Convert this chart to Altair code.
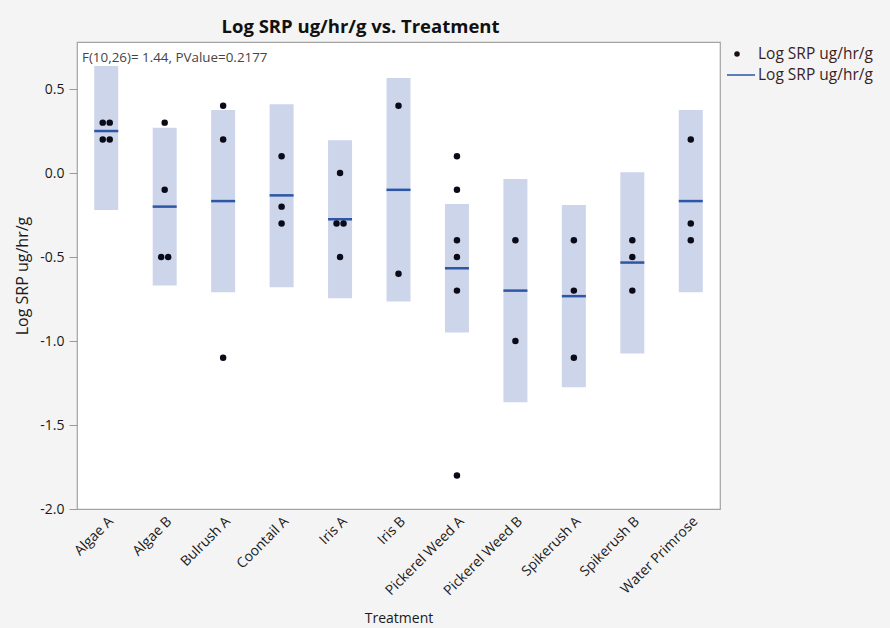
import altair as alt
import pandas as pd

treatments = ["Algae A", "Algae B", "Bulrush A", "Coontail A", "Iris A", "Iris B",
              "Pickerel Weed A", "Pickerel Weed B", "Spikerush A", "Spikerush B", "Water Primrose"]

# individual observations
pt_treatment = (["Algae A"] * 4 + ["Algae B"] * 4 + ["Bulrush A"] * 3 + ["Coontail A"] * 3 +
                ["Iris A"] * 4 + ["Iris B"] * 2 + ["Pickerel Weed A"] * 6 + ["Pickerel Weed B"] * 2 +
                ["Spikerush A"] * 3 + ["Spikerush B"] * 3 + ["Water Primrose"] * 3)
pt_value = [0.3, 0.3, 0.2, 0.2,
            0.3, -0.1, -0.5, -0.5,
            0.4, 0.2, -1.1,
            0.1, -0.2, -0.3,
            0.0, -0.3, -0.3, -0.5,
            0.4, -0.6,
            0.1, -0.1, -0.4, -0.5, -0.7, -1.8,
            -0.4, -1.0,
            -0.4, -0.7, -1.1,
            -0.4, -0.5, -0.7,
            0.2, -0.3, -0.4]

# group means and 95% confidence intervals (pooled)
means = [0.25, -0.2, -0.167, -0.133, -0.275, -0.1, -0.567, -0.7, -0.733, -0.533, -0.167]
lower = [-0.22, -0.67, -0.71, -0.68, -0.745, -0.765, -0.95, -1.365, -1.275, -1.075, -0.71]
upper = [0.72, 0.27, 0.375, 0.41, 0.195, 0.565, -0.185, -0.035, -0.19, 0.005, 0.375]

y_ticks = [0.5, 0.0, -0.5, -1.0, -1.5, -2.0]
title_text = "Log SRP ug/hr/g vs. Treatment"
y_title = "Log SRP ug/hr/g"
x_title = "Treatment"
annotation = "F(10,26)= 1.44, PValue=0.2177"
legend_label = "Log SRP ug/hr/g"

pts = pd.DataFrame({"Treatment": pt_treatment, "value": pt_value})
grp = pd.DataFrame({"Treatment": treatments, "mean": means, "lower": lower, "upper": upper})

FONT = "Open Sans"
W, H = 643, 467

xscale = alt.Scale(domain=treatments, paddingInner=0, paddingOuter=0)
yscale = alt.Scale(domain=[-2.0, 0.78], nice=False, zero=False)

xenc = alt.X("Treatment:N", scale=xscale, sort=treatments,
             axis=alt.Axis(title=x_title, labelAngle=-45, ticks=False, domain=False,
                           labelFontSize=14, labelFont=FONT, labelColor="#1a1a1a",
                           titleFont=FONT, titleFontSize=14, titleFontWeight="normal",
                           titleColor="#1a1a1a", labelPadding=5, titlePadding=14))
yaxis = alt.Axis(title=y_title, values=y_ticks, grid=False, domain=False,
                 tickSize=8, tickColor="#9a9a9a", labelFontSize=14, labelFont=FONT,
                 labelColor="#1a1a1a", labelPadding=5,
                 labelExpr="replace(format(datum.value, '.1f'), '\u2212', '-')",
                 titleFont=FONT, titleFontSize=16, titleFontWeight="normal",
                 titleColor="#1a1a1a", titlePadding=9)

bars = alt.Chart(grp).mark_bar(width=24, color="#cdd5ea").encode(
    x=xenc,
    y=alt.Y("lower:Q", scale=yscale, axis=yaxis),
    y2="upper:Q",
)

mean_ticks = alt.Chart(grp).mark_tick(size=24, thickness=2.5, color="#2d56a6", opacity=1).encode(
    x=alt.X("Treatment:N", scale=xscale, sort=treatments),
    y=alt.Y("mean:Q", scale=yscale),
)

points = alt.Chart(pts).transform_window(
    rk="row_number()", groupby=["Treatment", "value"]
).transform_joinaggregate(
    cnt="count()", groupby=["Treatment", "value"]
).transform_calculate(
    off="datum.rk - (datum.cnt + 1) / 2"
).mark_circle(size=42, color="#0a0a18", opacity=1,
              xOffset=alt.expr("datum.off * 7")).encode(
    x=alt.X("Treatment:N", scale=xscale, sort=treatments),
    y=alt.Y("value:Q", scale=yscale),
)

# annotation box and text
ann_bg = alt.Chart(pd.DataFrame({"t": [annotation]})).mark_rect(color="white").encode(
    x=alt.value(2), x2=alt.value(200), y=alt.value(4), y2=alt.value(24))
ann = alt.Chart(pd.DataFrame({"t": [annotation]})).mark_text(
    align="left", baseline="middle", font=FONT, fontSize=13.4, color="#444444").encode(
    x=alt.value(5), y=alt.value(16), text="t:N")

# manual legend (outside the plot)
leg_df = pd.DataFrame({"t": [legend_label]})
leg_dot = alt.Chart(leg_df).mark_point(filled=True, size=30, color="#1a0d0d", opacity=1).encode(
    x=alt.value(W + 17), y=alt.value(12))
leg_txt1 = alt.Chart(leg_df).mark_text(align="left", baseline="middle", font=FONT,
                                       fontSize=15.5, color="#3a1f1f").encode(
    x=alt.value(W + 38), y=alt.value(12), text="t:N")
leg_line = alt.Chart(leg_df).mark_rule(color="#2d56a6", strokeWidth=1.5).encode(
    x=alt.value(W + 7), x2=alt.value(W + 35), y=alt.value(33))
leg_txt2 = alt.Chart(leg_df).mark_text(align="left", baseline="middle", font=FONT,
                                       fontSize=15.5, color="#3a1f1f").encode(
    x=alt.value(W + 38), y=alt.value(33), text="t:N")

chart = alt.layer(bars, mean_ticks, points, ann_bg, ann,
                  leg_dot, leg_txt1, leg_line, leg_txt2).properties(
    width=W, height=H,
    title=alt.TitleParams(title_text, anchor="middle", frame="group", dx=-38, offset=6,
                          font=FONT, fontSize=18.5, fontWeight="bold", color="#111111"),
    autosize=alt.AutoSizeParams(type="none"),
    padding={"left": 77, "top": 42, "right": 170, "bottom": 119},
).configure(background="#f4f4f4").configure_view(
    fill="white", stroke="#a3a3a3", strokeWidth=1.2)

chart.save("out.html", embed_options={"renderer": "svg", "actions": False})
